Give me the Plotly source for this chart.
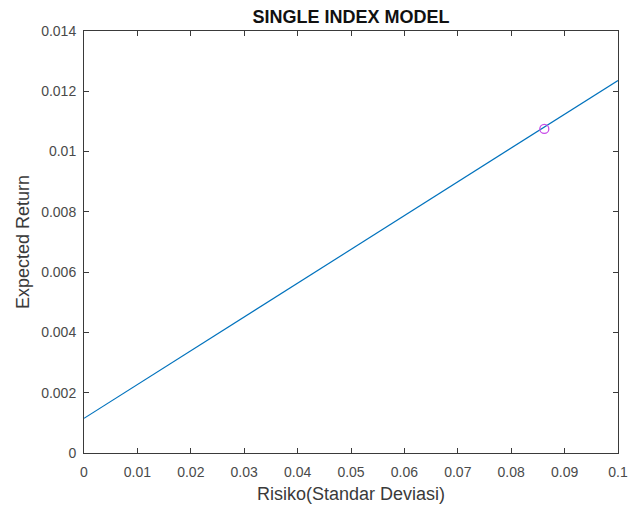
import plotly.graph_objects as go

risk = [0.0, 0.1]
ret = [0.00115, 0.01236]
opt_risk = [0.0862]
opt_ret = [0.01075]
xticks = [0, 0.01, 0.02, 0.03, 0.04, 0.05, 0.06, 0.07, 0.08, 0.09, 0.1]
xlabels = ["0", "0.01", "0.02", "0.03", "0.04", "0.05", "0.06", "0.07", "0.08", "0.09", "0.1"]
yticks = [0, 0.002, 0.004, 0.006, 0.008, 0.01, 0.012, 0.014]
ylabels = ["0", "0.002", "0.004", "0.006", "0.008", "0.01", "0.012", "0.014"]

FONT = "Liberation Sans, Arial"

fig = go.Figure()
fig.add_trace(go.Scatter(x=risk, y=ret, mode="lines",
                         line=dict(color="#0072BD", width=1.2), showlegend=False))
fig.add_trace(go.Scatter(x=opt_risk, y=opt_ret, mode="markers",
                         marker=dict(symbol="circle-open", color="#C84CE8", size=9, line=dict(width=1.3)),
                         showlegend=False))

axis_common = dict(showgrid=False, zeroline=False, showline=True, mirror="ticks",
                   linecolor="#3a3a3a", linewidth=1, ticks="inside", ticklen=5,
                   tickcolor="#3a3a3a", automargin=False,
                   tickfont=dict(family=FONT, size=14, color="#4a4a4a"))
fig.update_xaxes(range=[0, 0.1], tickvals=xticks, ticktext=xlabels, ticklabelstandoff=6,
                 title=dict(text="Risiko(Standar Deviasi)", font=dict(family=FONT, size=18, color="#3a3a3a"), standoff=8),
                 **axis_common)
fig.update_yaxes(range=[0, 0.014], tickvals=yticks, ticktext=ylabels, ticklabelstandoff=4,
                 title=dict(text="Expected Return", font=dict(family=FONT, size=18, color="#3a3a3a"), standoff=6),
                 **axis_common)
fig.update_layout(
    width=628, height=506,
    margin=dict(l=84, r=10, t=31, b=53),
    paper_bgcolor="white", plot_bgcolor="white",
    title=dict(text="<b>SINGLE INDEX MODEL</b>", xref="paper", x=0.5, xanchor="center",
               y=1 - 17/506, yanchor="middle",
               font=dict(family=FONT, size=18, color="#111111")),
)
fig.write_html("out.html")
